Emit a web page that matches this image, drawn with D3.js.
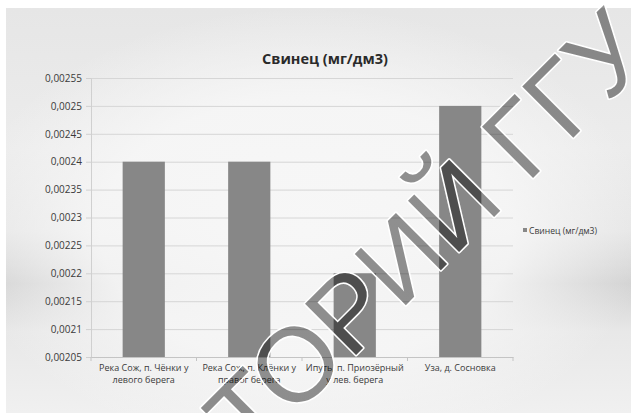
<!DOCTYPE html>
<html>
<head>
<meta charset="utf-8">
<script src="https://cdn.jsdelivr.net/npm/d3@7"></script>
<style>
  html, body { margin: 0; padding: 0; background: #ffffff; }
  svg { display: block; }
</style>
</head>
<body>
<svg id="chart" width="631" height="413"></svg>
<script>
// Lead concentration at four sampling points (mg/dm3)
const categories = [
  "Река Сож, п. Чёнки у левого берега",
  "Река Сож, п. Клёнки у правог берега",
  "Ипуть, п. Приозёрный у лев. берега",
  "Уза, д. Сосновка"
];
const categoryLines = [
  ["Река Сож, п. Чёнки у", "левого берега"],
  ["Река Сож, п. Клёнки у", "правог берега"],
  ["Ипуть, п. Приозёрный", "у лев. берега"],
  ["Уза, д. Сосновка"]
];
const values = [0.0024, 0.0024, 0.0022, 0.0025];
const yTickValues = [0.00205, 0.0021, 0.00215, 0.0022, 0.00225, 0.0023,
                     0.00235, 0.0024, 0.00245, 0.0025, 0.00255];
const seriesName = "Свинец (мг/дм3)";
const titleText = "Свинец (мг/дм3)";
const stampText = ["РЕПОЗИТОРИЙ ", "ГГУ"];

const W = 631, H = 413;
const plot = { left: 91, right: 513, top: 78, bottom: 357 };
const barColor = "#878787";
const textColor = "#3a3a3a";
const font = "'Open Sans', 'Noto Sans', sans-serif";

const svg = d3.select("#chart");
const defs = svg.append("defs");

// --- Background: soft grey panel with a brighter centre ---
const lg = defs.append("linearGradient").attr("id", "bgV")
  .attr("x1", 0).attr("y1", 0).attr("x2", 0).attr("y2", 1);
[[0, "#e6e6e6"], [0.35, "#ececec"], [0.55, "#e6e6e6"], [0.68, "#d2d2d2"],
 [0.8, "#e8e8e8"], [1, "#f0f0f0"]]
  .forEach(([o, c]) => lg.append("stop").attr("offset", o).attr("stop-color", c));

const rg = defs.append("radialGradient").attr("id", "bgGlow")
  .attr("cx", 0.48).attr("cy", 0.55).attr("r", 0.55);
[[0, 1], [0.6, 0.85], [1, 0]]
  .forEach(([o, a]) => rg.append("stop").attr("offset", o)
    .attr("stop-color", "#f7f7f7").attr("stop-opacity", a));

svg.append("rect").attr("width", W).attr("height", H).attr("fill", "#ffffff");
svg.append("rect").attr("x", 6).attr("y", 8).attr("width", W - 6).attr("height", H - 8)
  .attr("fill", "url(#bgV)");
svg.append("rect").attr("x", 6).attr("y", 8).attr("width", W - 6).attr("height", H - 8)
  .attr("fill", "url(#bgGlow)");

// --- Scales ---
const x = d3.scaleBand()
  .domain(categories)
  .range([plot.left, plot.right])
  .paddingInner(0.6)
  .paddingOuter(0.3);

const y = d3.scaleLinear()
  .domain([d3.min(yTickValues), d3.max(yTickValues)])
  .range([plot.bottom, plot.top]);

const ru = d3.formatLocale({ decimal: ",", thousands: " ", grouping: [3], currency: ["", ""] });
const fmt = ru.format("~g");

// --- Gridlines ---
const grid = svg.append("g")
  .attr("transform", `translate(${plot.left},0)`)
  .call(d3.axisLeft(y).tickValues(yTickValues)
    .tickSize(-(plot.right - plot.left)).tickFormat(""));
grid.select(".domain").remove();
grid.selectAll("line").attr("stroke", "#d6d6d6").attr("stroke-width", 1);

// --- Y axis ---
const yAxis = svg.append("g")
  .attr("transform", `translate(${plot.left},0)`)
  .call(d3.axisLeft(y).tickValues(yTickValues).tickSize(5).tickPadding(4).tickFormat(fmt));
yAxis.select(".domain").attr("stroke", "#d0d0d0");
yAxis.selectAll(".tick line").attr("stroke", "#d0d0d0");
yAxis.selectAll("text")
  .attr("font-family", font).attr("font-size", 10).attr("fill", textColor);

// --- Bars ---
svg.append("g").selectAll("rect")
  .data(values)
  .join("rect")
  .attr("x", (d, i) => x(categories[i]))
  .attr("y", d => y(d))
  .attr("width", x.bandwidth())
  .attr("height", d => y(y.domain()[0]) - y(d))
  .attr("fill", barColor);

// --- X axis ---
const xAxis = svg.append("g")
  .attr("transform", `translate(0,${plot.bottom})`)
  .call(d3.axisBottom(x).tickSize(0).tickFormat(""));
xAxis.select(".domain").attr("stroke", "#c4c4c4");
xAxis.selectAll(".tick").remove();
// small category separators
const step = x.step();
const bounds = d3.range(categories.length + 1).map(i => x(categories[0]) - x.paddingOuter() * step + i * step);
xAxis.selectAll("line.sep").data(bounds).join("line").attr("class", "sep")
  .attr("x1", d => d).attr("x2", d => d).attr("y1", 0).attr("y2", 4)
  .attr("stroke", "#c4c4c4");

const labels = svg.append("g");
categories.forEach((c, i) => {
  const t = labels.append("text")
    .attr("x", x(c) + x.bandwidth() / 2)
    .attr("y", plot.bottom + 14)
    .attr("text-anchor", "middle")
    .attr("font-family", font).attr("font-size", 9).attr("fill", textColor);
  categoryLines[i].forEach((ln, k) => {
    t.append("tspan").attr("x", x(c) + x.bandwidth() / 2)
      .attr("dy", k === 0 ? 0 : 12).text(ln);
  });
});

// --- Title ---
svg.append("text")
  .attr("x", 325).attr("y", 64)
  .attr("text-anchor", "middle")
  .attr("font-family", font).attr("font-weight", 700).attr("font-size", 14.5)
  .attr("fill", "#2a2a2a")
  .text(titleText);

// --- Legend ---
const leg = svg.append("g").attr("transform", "translate(523,231)");
leg.append("rect").attr("x", 0).attr("y", -3).attr("width", 4).attr("height", 4).attr("fill", barColor);
leg.append("text").attr("x", 6).attr("y", 2.8)
  .attr("font-family", font).attr("font-size", 8.6).attr("fill", textColor)
  .text(seriesName);

// --- Repository stamp across the chart ---
const stampAnchor = [527, 184];
const stampFont = "'Liberation Sans', Arial, sans-serif";
const stampSize = 105;

function stamp(sel) {
  const t = sel.append("text")
    .attr("font-family", stampFont).attr("font-size", stampSize);
  t.append("tspan").text(stampText[0]);
  t.append("tspan").text(stampText[1]);
  return t;
}

const maskG = defs.append("mask").attr("id", "stampMask")
  .attr("maskUnits", "userSpaceOnUse").attr("x", 0).attr("y", 0).attr("width", W).attr("height", H);
maskG.append("rect").attr("width", W).attr("height", H).attr("fill", "#fff");
const maskInner = maskG.append("g")
  .attr("transform", `translate(${stampAnchor[0]},${stampAnchor[1]}) rotate(-45)`);
const maskText = stamp(maskInner).attr("fill", "#000");

const outlineG = svg.append("g").attr("mask", "url(#stampMask)")
  .append("g").attr("transform", `translate(${stampAnchor[0]},${stampAnchor[1]}) rotate(-45)`);
const outlineText = stamp(outlineG).attr("fill", "none")
  .attr("stroke", "#ffffff").attr("stroke-width", 3.2).attr("stroke-linejoin", "round");

const fillG = svg.append("g")
  .attr("transform", `translate(${stampAnchor[0]},${stampAnchor[1]}) rotate(-45)`);
const fillText = stamp(fillG).attr("fill", "#000").attr("fill-opacity", 0.42);

// shift so the "ГГУ" part starts at the anchor
const preLen = fillText.node().getSubStringLength(0, stampText[0].length);
[maskText, outlineText, fillText].forEach(t => t.attr("x", -preLen));
</script>
</body>
</html>
